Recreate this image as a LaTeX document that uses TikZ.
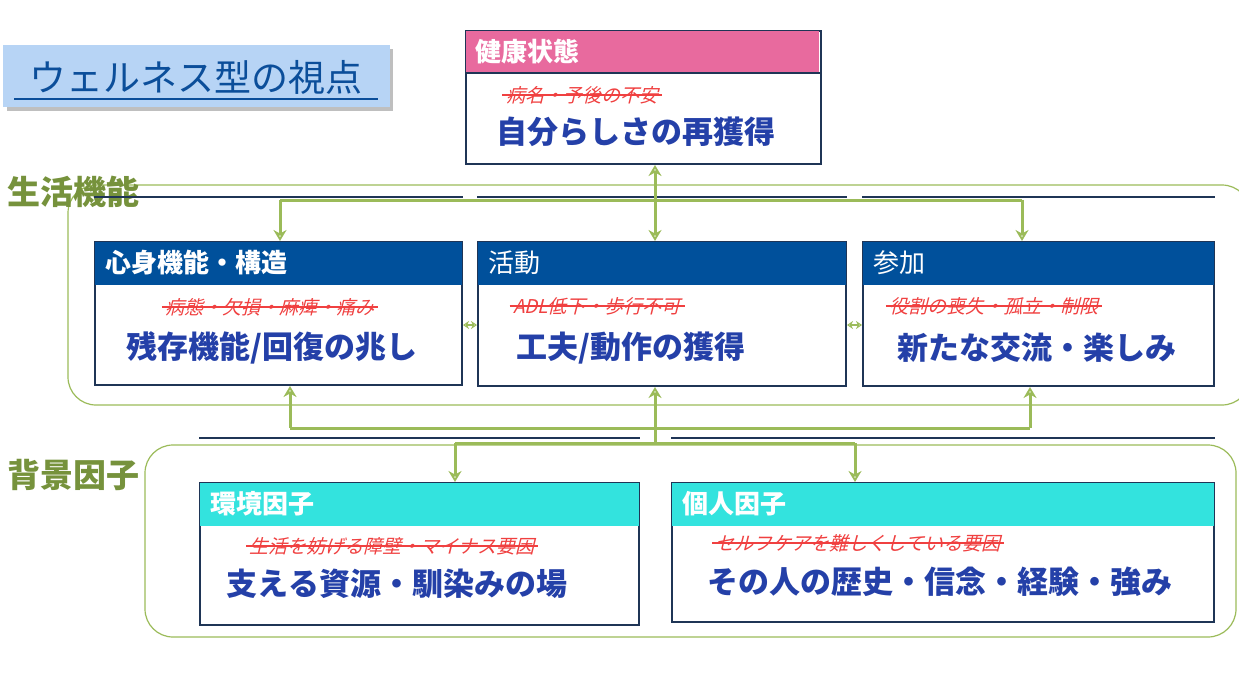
\documentclass[tikz,border=0pt]{standalone}
\usepackage{fontspec}
\setmainfont{Noto Sans CJK JP}
\newfontfamily\jp{Noto Sans CJK JP}
\newcommand{\jpb}{\jp\bfseries}
\newfontfamily\jpit[FakeSlant=0.25]{Noto Sans CJK JP}
\usetikzlibrary{arrows.meta}
\definecolor{gline}{HTML}{9BBB59}
\definecolor{glab}{HTML}{76923C}
\definecolor{hdr}{HTML}{00509B}
\definecolor{bord}{HTML}{1F3556}
\definecolor{txtb}{HTML}{2440A8}
\definecolor{strk}{HTML}{F04040}
\definecolor{pinkh}{HTML}{E86A9E}
\definecolor{cyanh}{HTML}{33E3DE}
\definecolor{ttlbg}{HTML}{B7D4F5}
\definecolor{ttl}{HTML}{0B4E9A}
\begin{document}
\begin{tikzpicture}[x=1pt,y=-1pt,
  box/.style={draw=bord,line width=2pt,fill=white},
  htxt/.style={anchor=west,text=white,font=\fontsize{26}{26}\selectfont\jp},
  htxtb/.style={anchor=west,text=white,font=\fontsize{26}{26}\selectfont\jpb},
  strike/.style={text=strk,font=\fontsize{19}{19}\selectfont\jpit},
  main/.style={text=txtb,font=\fontsize{31}{31}\selectfont\jpb},
  grp/.style={draw=gline,line width=1.2pt,rounded corners=28pt},
  glabel/.style={anchor=west,text=glab,font=\fontsize{33}{33}\selectfont\jpb},
  con/.style={draw=gline,line width=3pt},
  arr/.style={con,-{Stealth[length=11pt,width=13pt,open,line width=3pt]}},
  tarr/.style={draw=gline,line width=1.5pt,{Stealth[length=6pt,width=8pt,open]}-{Stealth[length=6pt,width=8pt,open]}}]
\useasboundingbox (0,0) rectangle (1239,683);
% title
\fill[black!25] (7,49) rectangle (393,111);
\node[fill=ttlbg,minimum width=387pt,minimum height=62pt,anchor=north west,inner sep=0pt] (title) at (3,45) {};
\node[text=ttl,font=\fontsize{37}{37}\selectfont\jp,anchor=center] (ttext) at (196,77) {ウェルネス型の視点};
\draw[ttl,line width=2pt] (14,99) -- (378,99);
% groups
\draw[grp] (68,185) rectangle (1250,405);
\draw[grp] (145,445) rectangle (1236,637);
\node[glabel] (lab1) at (4,192) {生活機能};
\node[glabel] (lab2) at (4,475) {背景因子};
% health
\node[box,minimum width=355pt,minimum height=133pt,anchor=north west,inner sep=0pt] (health) at (465,30) {};
\fill[pinkh] (466,31) rectangle (819,73);
\draw[bord,line width=2pt] (465,73) -- (820,73);
\node[htxtb] (hh) at (472,52) {健康状態};
\node[strike] (hs) at (582,95) {病名・予後の不安};
\draw[strk,line width=1.2pt] (hs.west) -- (hs.east);
\node[main] (hm) at (636,132) {自分らしさの再獲得};
% function boxes
\newcommand{\fnbox}[7]{%
 \node[box,minimum width=#3pt,minimum height=#4pt,anchor=north west,inner sep=0pt] (#1) at (#2) {};
 \fill[#5] ([shift={(1,1)}]#1.north west) rectangle ([shift={(-1,44)}]#1.north east);
 \draw[bord,line width=2pt] ([yshift=44]#1.north west) -- ([yshift=44]#1.north east);
 \node[#6] (#1h) at ([shift={(8,22)}]#1.north west) {#7};
}
\fnbox{body}{94,241}{367}{143}{hdr}{htxtb}{心身機能・構造}
\node[strike] (bs) at (270,307) {病態・欠損・麻痺・痛み};
\draw[strk,line width=1.2pt] (bs.west) -- (bs.east);
\node[main] (bm) at (272,348) {残存機能/回復の兆し};
\fnbox{act}{477,241}{368}{144}{hdr}{htxt}{活動}
\node[strike] (as) at (597,306) {ADL低下・歩行不可};
\draw[strk,line width=1.2pt] (as.west) -- (as.east);
\node[main] (am) at (631,348) {工夫/動作の獲得};
\fnbox{part}{862,241}{351}{144}{hdr}{htxt}{参加}
\node[strike] (ps) at (994,306) {役割の喪失・孤立・制限};
\draw[strk,line width=1.2pt] (ps.west) -- (ps.east);
\node[main] (pm) at (1037,348) {新たな交流・楽しみ};
\fnbox{env}{199,482}{439}{142}{cyanh}{htxtb}{環境因子}
\node[strike] (es) at (392,546) {生活を妨げる障壁・マイナス要因};
\draw[strk,line width=1.2pt] (es.west) -- (es.east);
\node[main] (em) at (397,584) {支える資源・馴染みの場};
\fnbox{pers}{671,482}{542}{139}{cyanh}{htxtb}{個人因子}
\node[strike] (pes) at (858,543) {セルフケアを難しくしている要因};
\draw[strk,line width=1.2pt] (pes.west) -- (pes.east);
\node[main] (pem) at (940,582) {その人の歴史・信念・経験・強み};
% connectors
\coordinate (t0) at (655,200);
\coordinate (t1) at (280,200); \coordinate (t2) at (1022,200);
\draw[arr] (t0) -- (health.south -| t0);
\draw[arr] (t0) -- (act.north -| t0);
\draw[con] (t1) -- (t2);
\draw[arr] (t1) -- (body.north -| t1);
\draw[arr] (t2) -- (part.north -| t2);
\coordinate (b0) at (655,444);
\coordinate (b1) at (290,428); \coordinate (b2) at (1030,428);
\draw[con] (b1) -- (b2);
\draw[arr] (b1) -- (body.south -| b1);
\draw[arr] (b2) -- (part.south -| b2);
\draw[arr] (b0) -- (act.south -| b0);
\coordinate (c1) at (455,443); \coordinate (c2) at (855,443);
\draw[con] (c1) -- (c2);
\draw[arr] (c1) -- (env.north -| c1);
\draw[arr] (c2) -- (pers.north -| c2);
\coordinate (m) at (0,325);
\draw[tarr] (body.east |- m) -- (act.west |- m);
\draw[tarr] (act.east |- m) -- (part.west |- m);
\end{tikzpicture}
\end{document}
